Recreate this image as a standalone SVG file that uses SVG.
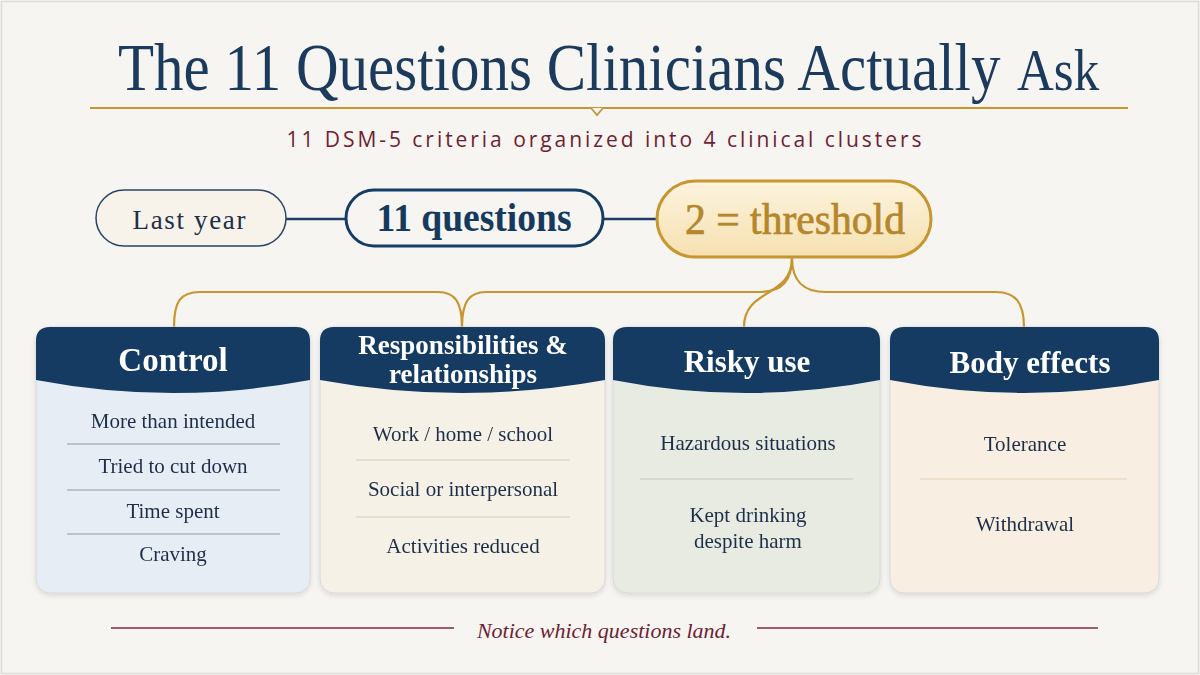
<svg xmlns="http://www.w3.org/2000/svg" width="1200" height="675" viewBox="0 0 1200 675">
<defs>
<linearGradient id="goldFill" x1="0" y1="0" x2="0" y2="1"><stop offset="0" stop-color="#fdf4de"/><stop offset="1" stop-color="#f5e0b0"/></linearGradient>
<filter id="sh" x="-10%" y="-10%" width="120%" height="125%"><feDropShadow dx="0" dy="2" stdDeviation="2.5" flood-color="#000" flood-opacity="0.12"/></filter>
<style>
.serif{font-family:"Liberation Serif","Times New Roman",serif}
.hdr{font-family:"Liberation Serif",serif;font-weight:bold;fill:#ffffff;text-anchor:middle}
.item{font-family:"Liberation Serif",serif;font-size:21px;fill:#1e2f48;text-anchor:middle}
.navy{fill:#133b64}
.conn{fill:none;stroke:#c8962f;stroke-width:2.2}
.link{stroke:#1d3f66;stroke-width:2.5}
.div-blue{stroke:#8c9cad;stroke-width:1.2}
.div-tan{stroke:#d9ccb4;stroke-width:1.2}
.div-sage{stroke:#c4c8b8;stroke-width:1.2}
.div-peach{stroke:#e6d2b4;stroke-width:1.2}
.card{stroke:#d6d8d8;stroke-width:1}
</style>
</defs>
<rect x="0" y="0" width="1200" height="675" fill="#f6f5f2"/>
<rect x="1.5" y="1.5" width="1197" height="672" fill="none" stroke="#dedcd8" stroke-width="1.5"/>

<g id="title">
<g transform="translate(0,90) scale(1,1.14) translate(0,-90)">
<text class="serif" x="118" y="90" font-size="59" fill="#1b3a5c">The 11 Questions Clinicians Actually</text>
<text class="serif" x="1017" y="90" font-size="51" fill="#1b3a5c">Ask</text>
</g>
<line x1="90" y1="108" x2="1128" y2="108" stroke="#c8962f" stroke-width="2"/>
<path d="M591,108 L597,115 L603,108" fill="#f6f5f2" stroke="#c8962f" stroke-width="1.8"/>
<text x="604" y="147" font-family="'Open Sans', 'Noto Sans', sans-serif" font-size="21" fill="#6e1f30" text-anchor="middle" textLength="635" lengthAdjust="spacing">11 DSM-5 criteria organized into 4 clinical clusters</text>
</g>

<g id="connectors">
<line class="link" x1="286" y1="219" x2="346" y2="219"/>
<line class="link" x1="603" y1="219" x2="657" y2="219"/>
<path class="conn" d="M174,327 C174,302 180,292 200,292 L438,292 C455,292 462,302 462,327"/>
<path class="conn" d="M462,327 C462,302 469,292 486,292 L760,292 C780,292 792,282 792,258"/>
<path class="conn" d="M792,258 C792,298 744,288 744,327"/>
<path class="conn" d="M792,258 C792,282 804,292 826,292 L996,292 C1015,292 1024,302 1024,327"/>
</g>

<g id="last-year">
<rect x="96" y="190" width="190" height="56" rx="28" fill="#f8f3ea" stroke="#2a4566" stroke-width="1.5"/>
<text class="serif" x="189" y="229" font-size="27" fill="#1e2f48" text-anchor="middle" textLength="113" lengthAdjust="spacing">Last year</text>
</g>
<g id="eleven-questions">
<rect x="346" y="190" width="257" height="56" rx="28" fill="#f7f5f1" stroke="#153d66" stroke-width="3"/>
<text class="serif" x="474" y="231" font-size="40" font-weight="bold" fill="#153a5e" text-anchor="middle" textLength="195" lengthAdjust="spacingAndGlyphs">11 questions</text>
</g>
<g id="threshold">
<rect x="657" y="181" width="274" height="76" rx="38" fill="url(#goldFill)" stroke="#c8962f" stroke-width="3"/>
<text class="serif" x="795" y="234" font-size="44" fill="#b5862b" stroke="#b5862b" stroke-width="0.7" text-anchor="middle" textLength="220" lengthAdjust="spacingAndGlyphs">2 = threshold</text>
</g>

<g id="card-control" filter="url(#sh)">
<rect class="card" x="36" y="327" width="274" height="266" rx="14" fill="#e7edf4"/>
<path class="navy" d="M36,380 L36,341 Q36,327 50,327 L296,327 Q310,327 310,341 L310,380 Q173,406 36,380 Z"/>
<text class="hdr" x="173" y="371" font-size="33">Control</text>
<text class="item" x="173" y="428" font-size="20">More than intended</text>
<line class="div-blue" x1="67" y1="444" x2="280" y2="444"/>
<text class="item" x="173" y="473" font-size="20">Tried to cut down</text>
<line class="div-blue" x1="67" y1="490" x2="280" y2="490"/>
<text class="item" x="173" y="518" font-size="20">Time spent</text>
<line class="div-blue" x1="67" y1="534" x2="280" y2="534"/>
<text class="item" x="173" y="561" font-size="20">Craving</text>
</g>

<g id="card-responsibilities" filter="url(#sh)">
<rect class="card" x="320" y="327" width="285" height="266" rx="14" fill="#f6f1e6"/>
<path class="navy" d="M320,380 L320,341 Q320,327 334,327 L591,327 Q605,327 605,341 L605,380 Q462,406 320,380 Z"/>
<text class="hdr" x="463" y="354" font-size="27">Responsibilities &amp;</text>
<text class="hdr" x="463" y="383" font-size="27">relationships</text>
<text class="item" x="463" y="441">Work / home / school</text>
<line class="div-tan" x1="356" y1="460" x2="570" y2="460"/>
<text class="item" x="463" y="496">Social or interpersonal</text>
<line class="div-tan" x1="356" y1="517" x2="570" y2="517"/>
<text class="item" x="463" y="553">Activities reduced</text>
</g>

<g id="card-risky" filter="url(#sh)">
<rect class="card" x="613" y="327" width="267" height="266" rx="14" fill="#e8ebe2"/>
<path class="navy" d="M613,380 L613,341 Q613,327 627,327 L866,327 Q880,327 880,341 L880,380 Q746,406 613,380 Z"/>
<text class="hdr" x="747" y="372" font-size="31">Risky use</text>
<text class="item" x="748" y="450">Hazardous situations</text>
<line class="div-sage" x1="640" y1="479" x2="853" y2="479"/>
<text class="item" x="748" y="522">Kept drinking</text>
<text class="item" x="748" y="548">despite harm</text>
</g>

<g id="card-body" filter="url(#sh)">
<rect class="card" x="890" y="327" width="269" height="266" rx="14" fill="#f8eee2"/>
<path class="navy" d="M890,380 L890,341 Q890,327 904,327 L1145,327 Q1159,327 1159,341 L1159,380 Q1024,406 890,380 Z"/>
<text class="hdr" x="1030" y="373" font-size="31">Body effects</text>
<text class="item" x="1025" y="451">Tolerance</text>
<line class="div-peach" x1="920" y1="479" x2="1127" y2="479"/>
<text class="item" x="1025" y="531">Withdrawal</text>
</g>

<g id="footer">
<line x1="111" y1="628" x2="454" y2="628" stroke="#7d2b3a" stroke-width="1.3"/>
<line x1="757" y1="628" x2="1098" y2="628" stroke="#7d2b3a" stroke-width="1.3"/>
<text class="serif" x="604" y="638" font-size="22" font-style="italic" fill="#6e2233" text-anchor="middle">Notice which questions land.</text>
</g>
</svg>
